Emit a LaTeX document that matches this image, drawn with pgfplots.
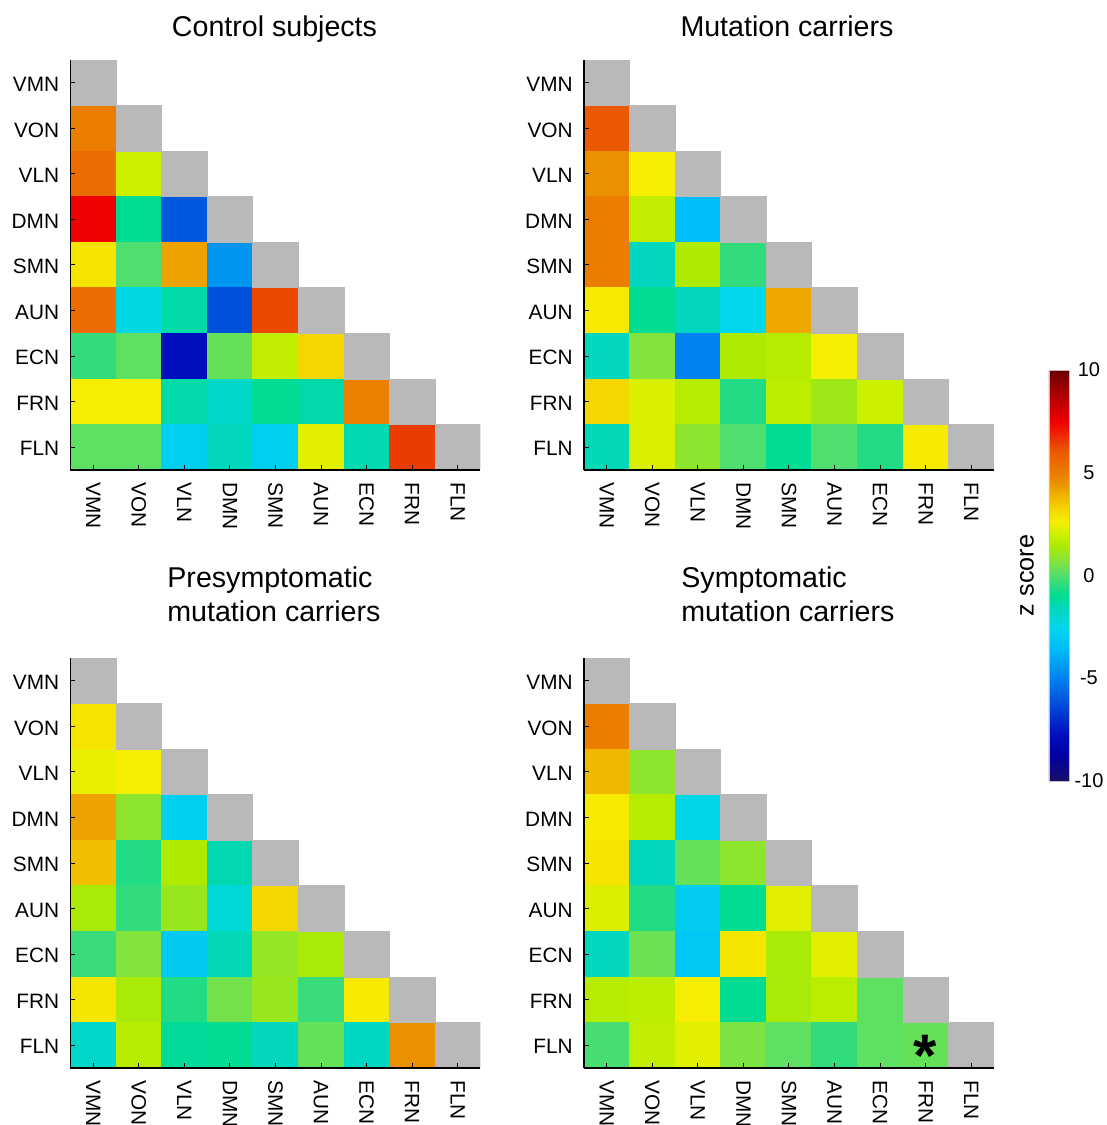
\documentclass[border=0pt]{standalone}
\usepackage{fontspec}
\setmainfont{Liberation Sans}
\usepackage{pgfplots}
\usepackage{pgfplotstable}
\pgfplotsset{compat=1.18}

% z scores, lower triangle: c = column, r = row (1 = VMN ... 9 = FLN)
\pgfplotstableread{
c r z
1 2 5.0
1 3 5.5
2 3 2.0
1 4 7.5
2 4 -1.0
3 4 -6.0
1 5 2.9
2 5 0.0
3 5 4.2
4 5 -4.5
1 6 5.5
2 6 -2.3
3 6 -1.3
4 6 -6.2
5 6 6.3
1 7 -0.4
2 7 0.2
3 7 -7.7
4 7 0.3
5 7 1.8
6 7 3.2
1 8 2.6
2 8 2.6
3 8 -1.3
4 8 -1.8
5 8 -1.0
6 8 -1.3
7 8 4.9
1 9 0.2
2 9 0.2
3 9 -2.8
4 9 -1.6
5 9 -2.8
6 9 2.3
7 9 -1.4
8 9 6.5
}\ctrl

\pgfplotstableread{
c r z
1 2 6.0
1 3 4.5
2 3 2.6
1 4 5.0
2 4 1.8
3 4 -3.5
1 5 5.0
2 5 -1.6
3 5 1.5
4 5 -0.4
1 6 2.7
2 6 -1.0
3 6 -1.6
4 6 -2.5
5 6 4.1
1 7 -1.6
2 7 0.7
3 7 -5.0
4 7 1.5
5 7 1.6
6 7 2.6
1 8 3.2
2 8 2.2
3 8 1.6
4 8 -0.6
5 8 1.7
6 8 1.2
7 8 2.0
1 9 -1.5
2 9 2.2
3 9 0.9
4 9 0.0
5 9 -1.0
6 9 0.0
7 9 -0.6
8 9 2.7
}\mut

\pgfplotstableread{
c r z
1 2 2.9
1 3 2.4
2 3 2.6
1 4 4.2
2 4 0.9
3 4 -2.8
1 5 3.7
2 5 -0.6
3 5 1.5
4 5 -1.4
1 6 1.4
2 6 -0.4
3 6 1.1
4 6 -2.1
5 6 3.2
1 7 -0.3
2 7 0.7
3 7 -3.0
4 7 -1.5
5 7 1.0
6 7 1.4
1 8 2.8
2 8 1.4
3 8 -0.6
4 8 0.5
5 8 1.1
6 8 -0.3
7 8 2.7
1 9 -1.8
2 9 1.6
3 9 -1.1
4 9 -1.0
5 9 -1.6
6 9 0.3
7 9 -1.7
8 9 4.5
}\pre

\pgfplotstableread{
c r z
1 2 5.0
1 3 3.8
2 3 0.9
1 4 2.7
2 4 1.6
3 4 -2.4
1 5 2.9
2 5 -1.6
3 5 0.3
4 5 0.9
1 6 2.2
2 6 -0.6
3 6 -2.9
4 6 -1.0
5 6 2.3
1 7 -1.6
2 7 0.4
3 7 -3.1
4 7 2.8
5 7 1.4
6 7 2.3
1 8 1.6
2 8 1.7
3 8 2.6
4 8 -1.0
5 8 1.4
6 8 1.7
7 8 0.2
1 9 -0.1
2 9 1.8
3 9 2.3
4 9 0.6
5 9 0.2
6 9 -0.4
7 9 0.2
8 9 0.3
}\sym

\definecolor{diaggray}{RGB}{185,185,185}
\newcommand\lblfont{\fontsize{10.4}{12}\selectfont}
\newcommand\ttlfont{\fontsize{14.3}{17}\selectfont}

\pgfplotsset{
  colormap={zjet}{
    rgb255(0cm)=(25,15,105); rgb255(1.2cm)=(0,0,160); rgb255(2.3cm)=(0,15,190);
    rgb255(3.8cm)=(0,80,220); rgb255(5cm)=(0,130,240); rgb255(5.5cm)=(0,150,240);
    rgb255(6.5cm)=(0,190,250); rgb255(7.5cm)=(0,215,235); rgb255(8.4cm)=(0,215,190);
    rgb255(9cm)=(0,220,145); rgb255(9.6cm)=(50,220,125); rgb255(10cm)=(80,222,110);
    rgb255(10.7cm)=(130,228,60); rgb255(11.5cm)=(175,235,0); rgb255(12cm)=(205,240,0);
    rgb255(12.6cm)=(245,238,0); rgb255(13.2cm)=(245,215,0); rgb255(13.8cm)=(240,185,0);
    rgb255(14.5cm)=(235,145,0); rgb255(15cm)=(235,125,0); rgb255(16cm)=(235,90,0);
    rgb255(16.5cm)=(235,60,0); rgb255(17.5cm)=(240,0,0); rgb255(18.5cm)=(190,0,0);
    rgb255(20cm)=(105,0,0)
  },
  cmat/.style={
    scale only axis, width=205pt, height=205pt,
    anchor=south west,
    xmin=0.5, xmax=9.5, ymin=0.5, ymax=9.5,
    axis lines*=left, axis on top,
    clip marker paths=true,
    axis line style={black, line width=0.6pt},
    tick align=inside, major tick length=2.5pt,
    tick style={black, line width=0.5pt},
    xtick={1,...,9}, ytick={1,...,9},
    xticklabels={VMN,VON,VLN,DMN,SMN,AUN,ECN,FRN,FLN},
    yticklabels={FLN,FRN,ECN,AUN,SMN,DMN,VLN,VON,VMN},
    xticklabel style={rotate=-90, anchor=west, inner sep=0pt, inner xsep=6pt, font=\lblfont},
    yticklabel style={anchor=east, inner sep=0pt, inner xsep=5.5pt, yshift=-0.8pt, font=\lblfont},
    colormap name=zjet, point meta min=-10, point meta max=10,
  },
  cell/.style={scatter, only marks, mark=square*, mark size=11.39pt,
    point meta=explicit,
    scatter/use mapped color={draw=mapped color, fill=mapped color},
    mark options={line width=0.3pt}},
  diag/.style={only marks, mark=square*, mark size=11.39pt,
    mark options={fill=diaggray, draw=diaggray, line width=0.3pt}},
}

\begin{document}
\begin{tikzpicture}
\useasboundingbox (0,0) rectangle (553.5pt,562.5pt);

% Control subjects
\begin{axis}[cmat, at={(35.25pt,327.5pt)}]
\addplot[cell] table[x=c, y expr={10-\thisrow{r}}, meta=z] {\ctrl};
\addplot[diag] coordinates {(1,9)(2,8)(3,7)(4,6)(5,5)(6,4)(7,3)(8,2)(9,1)};
\end{axis}

% Mutation carriers (carries the colour bar)
\begin{axis}[cmat, at={(292pt,327.5pt)},
  colorbar,
  colorbar style={
    at={(1.1341,-0.7585)}, anchor=south west,
    scale only axis, width=10pt, height=205.5pt,
    ytick={-10,-5,0,5,10}, yticklabels={-10,-5,0,5,10},
    yticklabel pos=right,
    yticklabel style={anchor=center, xshift=10pt, font=\fontsize{10}{12}\selectfont},
    major tick length=0pt,
    axis line style={draw=gray!50, line width=0.3pt},
    ylabel={z score},
    ylabel style={at={(axis description cs:-1.1,0.5)}, anchor=center, font=\fontsize{12.6}{15}\selectfont},
  }]
\addplot[cell] table[x=c, y expr={10-\thisrow{r}}, meta=z] {\mut};
\addplot[diag] coordinates {(1,9)(2,8)(3,7)(4,6)(5,5)(6,4)(7,3)(8,2)(9,1)};
\end{axis}

% Presymptomatic mutation carriers
\begin{axis}[cmat, at={(35.25pt,28.5pt)}]
\addplot[cell] table[x=c, y expr={10-\thisrow{r}}, meta=z] {\pre};
\addplot[diag] coordinates {(1,9)(2,8)(3,7)(4,6)(5,5)(6,4)(7,3)(8,2)(9,1)};
\end{axis}

% Symptomatic mutation carriers
\begin{axis}[cmat, at={(292pt,28.5pt)}]
\addplot[cell] table[x=c, y expr={10-\thisrow{r}}, meta=z] {\sym};
\addplot[diag] coordinates {(1,9)(2,8)(3,7)(4,6)(5,5)(6,4)(7,3)(8,2)(9,1)};
\node[anchor=base, font=\bfseries\fontsize{30}{30}\selectfont, yshift=-15.5pt] at (axis cs:8,1) {*};
\end{axis}

% titles
\node[anchor=base, font=\ttlfont] at (137.25pt,544pt) {Control subjects};
\node[anchor=base, font=\ttlfont] at (393.5pt,544pt) {Mutation carriers};
\node[anchor=base west, font=\ttlfont, inner sep=0pt] at (83.5pt,268.5pt) {Presymptomatic};
\node[anchor=base west, font=\ttlfont, inner sep=0pt] at (83.5pt,251.5pt) {mutation carriers};
\node[anchor=base west, font=\ttlfont, inner sep=0pt] at (340.5pt,268.5pt) {Symptomatic};
\node[anchor=base west, font=\ttlfont, inner sep=0pt] at (340.5pt,251.5pt) {mutation carriers};
\end{tikzpicture}
\end{document}
